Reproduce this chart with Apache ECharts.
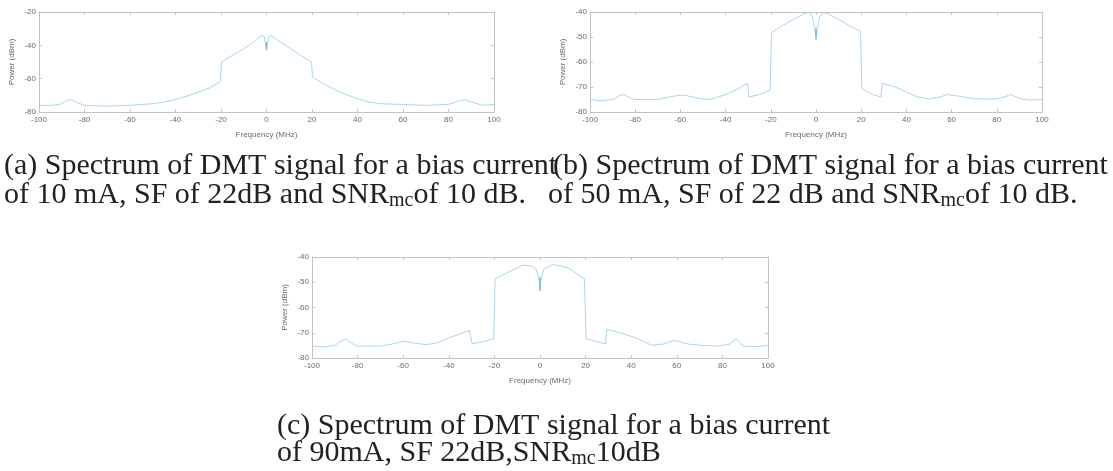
<!DOCTYPE html>
<html>
<head>
<meta charset="utf-8">
<script src="https://cdn.jsdelivr.net/npm/echarts@6/dist/echarts.min.js"></script>
<style>
  html, body { margin: 0; padding: 0; background: #fff; }
  #chart { width: 1113px; height: 471px; }
</style>
</head>
<body>
<div id="chart"></div>
<script>
// Spectrum (a): bias current 10 mA
const freqA = [-100,-95,-91,-88,-86,-83,-80,-70,-60,-55,-50,-45,-40,-35,-30,-25,-21,-20.2,-19.8,-15,-10,-5,-2,-1,0,1,2,5,10,15,19.8,20.2,25,30,35,40,45,50,60,70,80,84,87,90,95,100];
const powerA = [-76,-76,-75.5,-73.5,-72.5,-74.5,-76,-76.5,-76,-75.5,-75,-74,-72.5,-70.5,-68,-65.5,-62.5,-61,-50,-46,-42,-37.5,-34,-35,-42,-35,-34,-37,-41.5,-46,-50,-59,-63,-66.5,-69.5,-72,-74,-75,-75.5,-76,-75.5,-73.5,-72.5,-74,-76,-75.5];

// Spectrum (b): bias current 50 mA
const freqB = [-100,-95,-90,-87,-85,-82,-80,-70,-65,-60,-57,-52,-48,-45,-40,-35,-30.3,-29.7,-25,-20.3,-19.7,-15,-10,-5,-3,-1.5,-0.5,0,0.5,1.5,3,5,10,15,19.7,20.3,25,28.7,29.3,35,40,45,50,55,58,62,70,80,84,86,88,92,95,100];
const powerB = [-75,-75.5,-75,-73.5,-73,-74.5,-75,-75,-74,-73.2,-73.5,-74.5,-75,-74.5,-73,-71,-68.5,-74,-73,-71.2,-48.3,-45.5,-43,-40.6,-40.2,-42,-47,-50,-47,-42,-40.2,-40.6,-43,-45.5,-47.8,-70.6,-73,-74,-68.5,-70,-72,-74,-74.8,-74,-73,-73.5,-74.7,-74.8,-73.8,-73,-73.8,-75,-75.2,-75];

// Spectrum (c): bias current 90 mA
const freqC = [-100,-95,-90,-87,-85,-82,-80,-70,-65,-60,-56,-50,-45,-40,-35,-31,-30.3,-29.7,-25,-20.3,-19.7,-15,-10,-7.5,-4,-1.8,-0.6,0,0.6,1.8,5.5,9,12.8,16,19.5,20.2,25,28.7,29.3,35,42,49,54,59,65,71,78,83,86,89,95,100];
const powerC = [-75.3,-75.6,-75,-73.2,-72.4,-74.5,-75.3,-75.3,-74.5,-73.3,-74,-74.7,-74,-72,-70.5,-69,-69,-74.4,-73.5,-72.4,-48.7,-46.5,-44.3,-43.2,-43.5,-44.7,-48,-52.5,-48,-44.7,-43,-43.5,-44.5,-46.5,-48.7,-72.4,-73.5,-74.4,-68.7,-70,-72,-75,-74.5,-73,-74.5,-75,-75.3,-74.5,-72.4,-75.3,-75.5,-75];

// Carrier notch at 0 MHz (darker trace)
const notchFreq = [0, 0];
const notchA = [-38, -43];
const notchB = [-46.5, -51];
const notchC = [-48, -53.5];

// Axis ranges
const xTicks = { min: -100, max: 100, interval: 20 };
const yRanges = [
  { min: -80, max: -20, interval: 20 },
  { min: -80, max: -40, interval: 10 },
  { min: -80, max: -40, interval: 10 }
];

const xName = 'Frequency (MHz)';
const yName = 'Power (dBm)';

const grids = [
  { left: 39, top: 12, width: 455, height: 100 },
  { left: 590, top: 12, width: 452, height: 100 },
  { left: 312, top: 257, width: 456, height: 101 }
];

const axisColor = '#c4c4c4';
const labelColor = '#6b6b6b';
const traceColor = '#a8d6ee';
const notchColor = '#7ab4dc';

const xAxes = [];
const yAxes = [];
grids.forEach((g, i) => {
  xAxes.push({
    gridIndex: i, type: 'value', position: 'bottom',
    min: xTicks.min, max: xTicks.max, interval: xTicks.interval,
    name: xName, nameLocation: 'middle', nameGap: 19,
    nameTextStyle: { fontSize: 8, color: labelColor, fontFamily: 'Liberation Sans' },
    axisLine: { onZero: false, lineStyle: { color: axisColor, width: 1 } },
    axisTick: { inside: true, length: 3, lineStyle: { color: axisColor } },
    axisLabel: { fontSize: 8, color: labelColor, margin: 4, fontFamily: 'Liberation Sans' },
    splitLine: { show: false }
  });
  xAxes.push({
    gridIndex: i, type: 'value', position: 'top',
    min: xTicks.min, max: xTicks.max, interval: xTicks.interval,
    axisLine: { onZero: false, lineStyle: { color: axisColor, width: 1 } },
    axisTick: { inside: true, length: 3, lineStyle: { color: axisColor } },
    axisLabel: { show: false },
    splitLine: { show: false }
  });
  const r = yRanges[i];
  yAxes.push({
    gridIndex: i, type: 'value', position: 'left',
    min: r.min, max: r.max, interval: r.interval,
    name: yName, nameLocation: 'middle', nameGap: 23,
    nameTextStyle: { fontSize: 8, color: labelColor, fontFamily: 'Liberation Sans' },
    axisLine: { show: true, onZero: false, lineStyle: { color: axisColor, width: 1 } },
    axisTick: { show: true, inside: true, length: 3, lineStyle: { color: axisColor } },
    axisLabel: { fontSize: 8, color: labelColor, margin: 3, fontFamily: 'Liberation Sans' },
    splitLine: { show: false }
  });
  yAxes.push({
    gridIndex: i, type: 'value', position: 'right',
    min: r.min, max: r.max, interval: r.interval,
    axisLine: { show: true, onZero: false, lineStyle: { color: axisColor, width: 1 } },
    axisTick: { show: true, inside: true, length: 3, lineStyle: { color: axisColor } },
    axisLabel: { show: false },
    splitLine: { show: false }
  });
});

function pairs(xs, ys) { return xs.map((x, k) => [x, ys[k]]); }

const traces = [
  [freqA, powerA, notchA],
  [freqB, powerB, notchB],
  [freqC, powerC, notchC]
];
const series = [];
traces.forEach((t, i) => {
  series.push({
    type: 'line', xAxisIndex: 2 * i, yAxisIndex: 2 * i,
    data: pairs(t[0], t[1]), symbol: 'none', animation: false,
    lineStyle: { color: traceColor, width: 1 }
  });
  series.push({
    type: 'line', xAxisIndex: 2 * i, yAxisIndex: 2 * i,
    data: pairs(notchFreq, t[2]), symbol: 'none', animation: false,
    lineStyle: { color: notchColor, width: 1.5 }
  });
});

// Sub-figure captions
const capFont = 'Liberation Serif';
const capSize = 30;
const capRich = {
  sub: { fontFamily: capFont, fontSize: 20, padding: [12, 0, 0, 0], verticalAlign: 'bottom', fill: '#222' }
};
function caption(x, y, text) {
  return {
    type: 'text', left: x, top: y, silent: true,
    style: {
      text: text, rich: capRich, fill: '#222',
      font: capSize + 'px "' + capFont + '"'
    }
  };
}
const captions = [
  caption(4, 151, '(a) Spectrum of DMT signal for a bias current'),
  caption(4, 180, 'of 10 mA, SF of 22dB and SNR{sub|mc}of 10 dB.'),
  caption(553, 151, '(b) Spectrum of DMT signal for a bias current'),
  caption(548, 180, 'of 50 mA, SF of 22 dB and SNR{sub|mc}of 10 dB.'),
  caption(277, 411, '(c) Spectrum of DMT signal for a bias current'),
  caption(277, 438, 'of 90mA, SF 22dB,SNR{sub|mc}10dB')
];

const chart = echarts.init(document.getElementById('chart'), null, { renderer: 'canvas' });
chart.setOption({
  backgroundColor: '#ffffff',
  animation: false,
  grid: grids,
  xAxis: xAxes,
  yAxis: yAxes,
  series: series,
  graphic: captions
});
</script>
</body>
</html>
